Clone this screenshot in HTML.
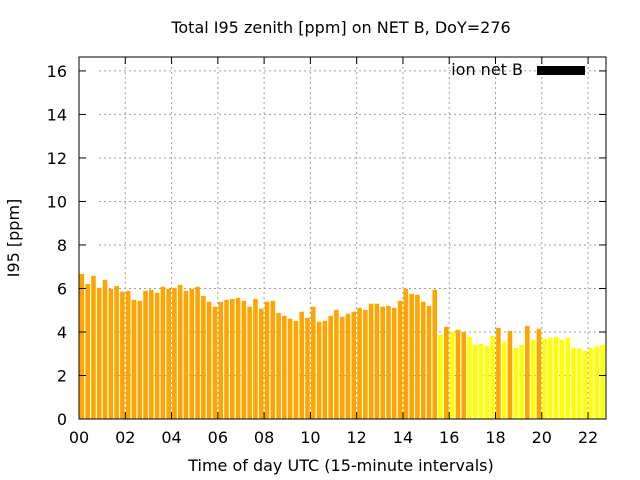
<!DOCTYPE html>
<html><head><meta charset="utf-8"><style>
body{margin:0;background:#fff}
svg{display:block;font-family:"DejaVu Sans","Liberation Sans",sans-serif}
</style></head><body>
<svg id="chart" width="640" height="480">
<text x="341" y="33" text-anchor="middle" font-size="16">Total I95 zenith [ppm] on NET B, DoY=276</text>
<text transform="translate(19,238) rotate(-90)" text-anchor="middle" font-size="16">I95 [ppm]</text>
<text x="341" y="471" text-anchor="middle" font-size="16">Time of day UTC (15-minute intervals)</text>
<g id="grid"></g><g id="bars"></g><g id="axes"></g>
<text x="523" y="75" text-anchor="end" font-size="16">ion net B</text>
<rect x="537" y="66" width="48" height="9" fill="#000"/>
</svg>
<script>
const values=[6.67,6.21,6.58,6.03,6.40,5.98,6.12,5.85,5.89,5.48,5.43,5.89,5.94,5.80,6.08,5.98,6.03,6.17,5.89,5.98,6.08,5.66,5.39,5.16,5.39,5.48,5.52,5.57,5.43,5.16,5.52,5.07,5.39,5.43,4.88,4.74,4.61,4.51,4.93,4.65,5.16,4.47,4.51,4.74,5.02,4.70,4.84,4.93,5.11,5.02,5.30,5.30,5.16,5.20,5.11,5.43,5.98,5.75,5.71,5.39,5.20,5.94,3.87,4.24,4.01,4.10,4.01,3.78,3.41,3.46,3.36,3.82,4.19,3.55,4.05,3.27,3.41,4.28,3.64,4.15,3.69,3.73,3.78,3.64,3.73,3.27,3.23,3.13,3.27,3.32,3.41,3.27];
const colorCodes="ooooooooooooooooooooooooooooooooooooooooooooooooooooooooooooooyoyooyyyyyoyoyyoyoyyyyyyyyyyyy";
const yTicks=[0,2,4,6,8,10,12,14,16];
const xTicks=["00","02","04","06","08","10","12","14","16","18","20","22"];
const L=79,R=606,T=57,B=419,XMAX=22.775,YMAX=16.64;
const NS="http://www.w3.org/2000/svg";
const xs=h=>L+h/XMAX*(R-L), ys=v=>B-v/YMAX*(B-T);
function mk(p,t,a){const e=document.createElementNS(NS,t);for(const k in a)e.setAttribute(k,a[k]);document.getElementById(p).appendChild(e);return e;}
yTicks.forEach(v=>{const y=ys(v);
 if(v>0){const g=mk('grid','line',{x1:L+20,x2:R,y1:y,y2:y,stroke:'#a0a0a0','stroke-dasharray':'2,3'});
 
 }
 mk('axes','line',{x1:L,x2:L+7,y1:y,y2:y,stroke:'#000'});mk('axes','line',{x1:R,x2:R-7,y1:y,y2:y,stroke:'#000'});
 const t=mk('axes','text',{x:L-12,y:y+6,'text-anchor':'end','font-size':16});t.textContent=v;
 
 });
xTicks.forEach(s=>{const x=xs(+s);
 if(+s>0){const g=mk('grid','line',{x1:x,x2:x,y1:T,y2:B,stroke:'#a0a0a0','stroke-dasharray':'2,3'});
 
 }
 mk('axes','line',{x1:x,x2:x,y1:B,y2:B-7,stroke:'#000'});mk('axes','line',{x1:x,x2:x,y1:T,y2:T+7,stroke:'#000'});
 const t=mk('axes','text',{x:x,y:B+24,'text-anchor':'middle','font-size':16});t.textContent=s;
 
 });
values.forEach((v,i)=>{const x0=xs(i*0.25)+0.6,x1=Math.min(xs((i+1)*0.25)-0.6,R);
 const r=mk('bars','rect',{x:x0,y:ys(v),width:Math.max(0,x1-x0),height:B-ys(v),fill:colorCodes[i]==='y'?'#ffff00':'#ffa500'});
 
 });
const f=mk('axes','rect',{x:L,y:T,width:R-L,height:B-T,fill:'none',stroke:'#000'});


</script>
</body></html>
